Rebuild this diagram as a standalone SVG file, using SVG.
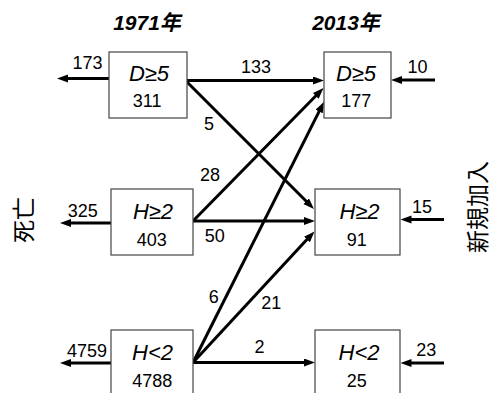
<svg xmlns="http://www.w3.org/2000/svg" width="493" height="393" viewBox="0 0 493 393">
<defs>
<style>
.box{fill:#fff;stroke:#444;stroke-width:1.2}
.lbl{font-family:"Liberation Sans","Noto Sans CJK JP",sans-serif;font-style:italic;font-size:22px;text-anchor:middle;fill:#000}
.num{font-family:"Liberation Sans","Noto Sans CJK JP",sans-serif;font-size:18px;text-anchor:middle;fill:#000}
.ttl{font-family:"Liberation Sans","Noto Sans CJK JP",sans-serif;font-style:italic;font-weight:bold;font-size:21px;text-anchor:middle;fill:#000}
.side{font-family:"Noto Sans CJK JP",sans-serif;font-size:23px;text-anchor:middle;fill:#000}
.ln{stroke:#000;stroke-width:3;fill:none;marker-end:url(#ah)}
</style>
<marker id="ah" markerUnits="userSpaceOnUse" markerWidth="12" markerHeight="9" refX="4" refY="4" orient="auto">
<path d="M0,0 L11,4 L0,8 z" fill="#000"/>
</marker>
</defs>
<rect width="493" height="393" fill="#fff"/>
<text class="ttl" x="147" y="30">1971年</text>
<text class="ttl" x="346" y="30">2013年</text>
<text class="side" transform="translate(32,220) rotate(-90)">死亡</text>
<text class="side" transform="translate(486,207) rotate(-90)">新規加入</text>
<g id="connectors">
<line class="ln" x1="109" y1="78.5" x2="64" y2="78.5"/>
<line class="ln" x1="111" y1="223" x2="67" y2="223"/>
<line class="ln" x1="111" y1="363" x2="67" y2="363"/>
<line class="ln" x1="435" y1="80" x2="398" y2="80"/>
<line class="ln" x1="444" y1="219.5" x2="407.5" y2="219.5"/>
<line class="ln" x1="444" y1="363" x2="407.5" y2="363"/>
<line class="ln" x1="187" y1="80.5" x2="317" y2="80.5"/>
<line class="ln" x1="187" y1="82" x2="309" y2="204"/>
<line class="ln" x1="193" y1="221" x2="318.6" y2="93"/>
<line class="ln" x1="193" y1="221" x2="308" y2="221"/>
<line class="ln" x1="193" y1="362.5" x2="320.9" y2="107.9"/>
<line class="ln" x1="193" y1="362.5" x2="309.7" y2="236.6"/>
<line class="ln" x1="193" y1="362.5" x2="308" y2="362.5"/>
<text class="num" x="87.5" y="69.3">173</text>
<text class="num" x="82.8" y="216.7">325</text>
<text class="num" x="87" y="356.7">4759</text>
<text class="num" x="417.5" y="72.7">10</text>
<text class="num" x="422" y="213.3">15</text>
<text class="num" x="426.3" y="356">23</text>
<text class="num" x="256" y="72.7">133</text>
<text class="num" x="209" y="130">5</text>
<text class="num" x="210" y="180.7">28</text>
<text class="num" x="214.7" y="242.3">50</text>
<text class="num" x="213.8" y="303.3">6</text>
<text class="num" x="271.3" y="309.3">21</text>
<text class="num" x="259.5" y="353.3">2</text>
</g>
<g id="n1971D">
<rect class="box" x="109" y="52" width="78" height="66"/>
<text class="lbl" x="149" y="80.7">D≥5</text>
<text class="num" x="147.2" y="106.7">311</text>
</g>
<g id="n2013D">
<rect class="box" x="324" y="52" width="67" height="66"/>
<text class="lbl" x="356" y="80.7">D≥5</text>
<text class="num" x="356.3" y="106.7">177</text>
</g>
<g id="n1971H2">
<rect class="box" x="111" y="189" width="82" height="66"/>
<text class="lbl" x="153" y="218.7">H≥2</text>
<text class="num" x="151.7" y="245.7">403</text>
</g>
<g id="n2013H2">
<rect class="box" x="315" y="189" width="85" height="66"/>
<text class="lbl" x="359.5" y="219.3">H≥2</text>
<text class="num" x="356.7" y="245.7">91</text>
</g>
<g id="n1971Hl">
<rect class="box" x="111" y="330" width="82" height="66"/>
<text class="lbl" x="152.5" y="360">H&lt;2</text>
<text class="num" x="152.2" y="386.7">4788</text>
</g>
<g id="n2013Hl">
<rect class="box" x="315" y="330" width="85" height="66"/>
<text class="lbl" x="359" y="360">H&lt;2</text>
<text class="num" x="356.7" y="386.7">25</text>
</g>
</svg>
